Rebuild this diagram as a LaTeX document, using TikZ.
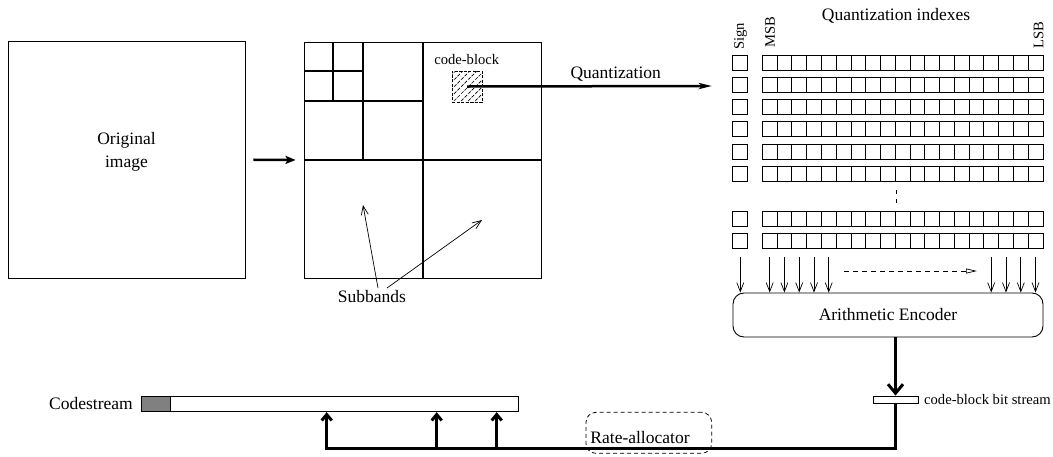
\documentclass[tikz,border=0pt]{standalone}
\usepackage{fontspec}
\setmainfont{Liberation Serif}
\usetikzlibrary{arrows.meta,patterns.meta,calc}
\begin{document}
\begin{tikzpicture}[x=1pt,y=-1pt,
  txt/.style={font=\fontsize{17.5}{23}\selectfont, inner sep=0pt},
  stxt/.style={font=\fontsize{14.6}{17}\selectfont, inner sep=0pt},
  box/.style={draw, line width=0.9pt, inner sep=0pt},
  grid/.style={line width=1.2pt},
  thinarrow/.style={line width=0.7pt, -{Straight Barb[length=9pt,width=7pt]}},
  bigarrow/.style={line width=2.5pt, -{Stealth[length=10pt,width=8pt,inset=2pt]}},
  quantarrow/.style={line width=2.5pt, -{Stealth[length=13pt,width=6pt,inset=3pt]}},
  thickv/.style={line width=3pt, -{Straight Barb[length=9pt,width=15pt]}},
  thickup/.style={line width=3pt, -{Straight Barb[length=6pt,width=10pt]}},
  dasharrow/.style={line width=0.7pt, dash pattern=on 5pt off 4pt, -{Triangle[open,length=11pt,width=5pt]}}
]
\useasboundingbox (0,0) rectangle (1053,456);

% original image
\node[box, minimum width=237pt, minimum height=237pt] (orig) at (126.5,159.7) {};
\node[txt, align=center] (origl) at (126.5,152) {Original\\image};

% subband decomposition
\node[box, minimum width=237pt, minimum height=236pt] (sub) at (422.5,160) {};
\draw[grid] (423,42) -- (423,278);
\draw[grid] (304,160) -- (541,160);
\draw[grid] (363,42) -- (363,160);
\draw[grid] (304,101) -- (423,101);
\draw[grid] (333,42) -- (333,101);
\draw[grid] (304,71) -- (363,71);

\draw[bigarrow, shorten <=8pt, shorten >=8pt] (orig.east) -- (sub.west);

% code-block
\node[stxt] (cbl) at (466.7,60) {code-block};
\node[draw, line width=0.6pt, dash pattern=on 3pt off 1.5pt, inner sep=0pt,
      minimum width=30pt, minimum height=31pt,
      pattern={Lines[angle=45,distance=5pt,line width=0.7pt]}] (cb) at (467,86.5) {};

% quantization indexes grid
\node[txt] (qi) at (896,15.5) {Quantization indexes};
\node[stxt, rotate=90, anchor=west] (sign) at (740.5,50) {Sign};
\node[stxt, rotate=90, anchor=west] (msb) at (770,48) {MSB};
\node[stxt, rotate=90, anchor=west] (lsb) at (1038.5,49) {LSB};

\foreach \k in {0,...,5,7,8} {
  \pgfmathsetmacro\yy{62.5+22.3*\k}
  \node[box, minimum size=15pt] (s\k) at (740.3,\yy) {};
  \node[box, minimum width=280.7pt, minimum height=15pt] (r\k) at (902.65,\yy) {};
  \foreach \j in {1,...,18} {
    \draw[line width=0.9pt] ({762.3+14.774*\j},\yy-7.5) -- ++(0,15);
  }
}
\draw[line width=0.8pt, dash pattern=on 4pt off 5pt] (896,190) -- (896,204);

\coordinate (qend) at (712,86);
\draw[quantarrow] (cb.center) -- (qend);
\node[txt] (ql) at (615.7,74.5) {Quantization};

% arithmetic encoder
\node[box, rounded corners=11pt, minimum width=310pt, minimum height=44pt, txt] (enc) at (888,315) {\raisebox{-3pt}{Arithmetic Encoder}};
\foreach \x in {740.3,769.7,784.4,799.2,814,828.7,991.2,1006,1020.8,1035.5} {
  \draw[thinarrow] (\x,257) -- (\x,0 |- enc.north);
}
\draw[dasharrow] (844,271) -- (977,271);

% code-block bit stream
\node[box, minimum width=45pt, minimum height=7pt] (bs) at (895.5,399.5) {};
\draw[thickv] (enc.south -| bs.north) -- (bs.north);
\node[stxt, anchor=west] (bsl) at (924,399.5) {code-block bit stream};

% codestream
\fill[black!50] (141.7,396.7) rectangle (170.7,411.7);
\draw[line width=0.9pt] (170.7,396.7) -- (170.7,411.7);
\node[box, minimum width=376.6pt, minimum height=15pt] (cs) at (330,404.2) {};
\node[txt, anchor=east] (csl) at (133,404) {Codestream};

% rate allocator
\node[draw, line width=0.8pt, dash pattern=on 4pt off 3pt, rounded corners=10pt,
      minimum width=125.7pt, minimum height=41pt] (rate) at (648.8,432.8) {};
\node[txt] (ratel) at (640,438) {Rate-allocator};

\coordinate (corner) at (895.5,448.3);
\coordinate (a1) at (326.7,448.3);
\coordinate (a2) at (436.7,448.3);
\coordinate (a3) at (496.7,448.3);
\draw[thickup] (bs.south) -- (corner) -- (a1) -- (a1 |- cs.south);
\draw[thickup] (a2) -- (a2 |- cs.south);
\draw[thickup] (a3) -- (a3 |- cs.south);

% subbands
\node[txt] (sbl) at (372,297) {Subbands};
\draw[thinarrow] (378,288) -- (363,205);
\draw[thinarrow] (387,288) -- (482,220);
\end{tikzpicture}
\end{document}
